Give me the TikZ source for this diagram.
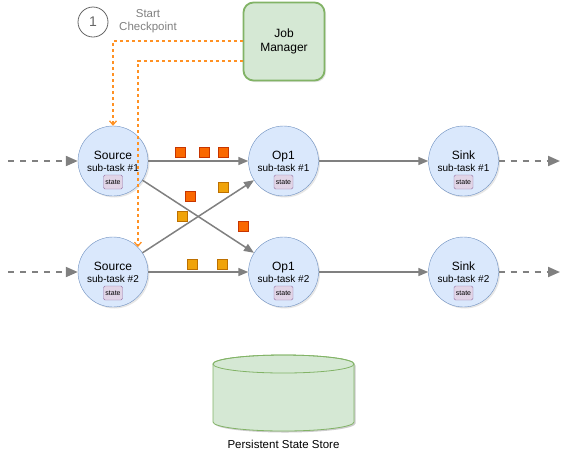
\documentclass[tikz,border=0pt]{standalone}
\usepackage{fontspec}
\setmainfont{Liberation Sans}
\usetikzlibrary{arrows.meta,shadows}
\definecolor{taskfill}{HTML}{DAE8FC}
\definecolor{taskline}{HTML}{6C8EBF}
\definecolor{statefill}{HTML}{E1D5E7}
\definecolor{stateline}{HTML}{9673A6}
\definecolor{jmfill}{HTML}{D5E8D4}
\definecolor{jmline}{HTML}{82B366}
\definecolor{flowgray}{HTML}{808080}
\definecolor{cpline}{RGB}{255,145,35}
\definecolor{redfill}{HTML}{FA6800}
\definecolor{redline}{HTML}{C73500}
\definecolor{orangefill}{HTML}{F0A30A}
\definecolor{orangeline}{HTML}{BD7000}
\begin{document}
\begin{tikzpicture}[x=1pt,y=-1pt,
    task/.style={circle,draw=taskline,fill=taskfill,minimum size=70pt,inner sep=0pt,
      align=center,font=\fontsize{12}{14}\selectfont,
      drop shadow={shadow xshift=1.5pt,shadow yshift=-1.5pt,opacity=.2}},
    statebox/.style={draw=stateline,fill=statefill,rounded corners=1.5pt,
      minimum width=19pt,minimum height=14pt,inner sep=0pt,font=\fontsize{7}{8}\selectfont},
    flow/.style={draw=flowgray,line width=1.5pt,-{Triangle[length=10pt,width=8pt]}},
    stream/.style={draw=flowgray,line width=2pt,dash pattern=on 6pt off 6pt,
      -{Triangle[length=12pt,width=10pt]}},
    trigger/.style={draw=cpline,line width=1.3pt,dash pattern=on 3pt off 3pt,
      -{Straight Barb[length=4pt,width=7pt,color=cpline]}},
    redmark/.style={draw=redline,fill=redfill,minimum size=10pt,inner sep=0pt},
    orangemark/.style={draw=orangeline,fill=orangefill,minimum size=10pt,inner sep=0pt}]
  \useasboundingbox (0,0) rectangle (567,451);
  % job manager and checkpoint trigger
  \node[draw=jmline,fill=jmfill,line width=1.8pt,rounded corners=10pt,minimum width=81pt,
    minimum height=78pt,align=center,font=\fontsize{12}{14}\selectfont,
    drop shadow={shadow xshift=1.5pt,shadow yshift=-1.5pt,opacity=.2}]
    (jm) at (284,41.5) {Job\\Manager};
  \node[circle,draw=black!60,line width=.8pt,minimum size=30pt,inner sep=0pt,
    text=black!60,font=\fontsize{14}{16}\selectfont] (one) at (93,22) {1};
  \node[text=flowgray,align=center,font=\fontsize{11.5}{13}\selectfont] (startcp) at (148,21)
    {Start\\Checkpoint};
  % tasks
  \draw
    (113,161) node[task] (s1) {Source\\[-2pt]\fontsize{10}{12}\selectfont sub-task \#1}
    (113,272) node[task] (s2) {Source\\[-2pt]\fontsize{10}{12}\selectfont sub-task \#2}
    (283.5,161) node[task] (op1) {Op1\\[-2pt]\fontsize{10}{12}\selectfont sub-task \#1}
    (283.5,272) node[task] (op2) {Op1\\[-2pt]\fontsize{10}{12}\selectfont sub-task \#2}
    (463.5,161) node[task] (k1) {Sink\\[-2pt]\fontsize{10}{12}\selectfont sub-task \#1}
    (463.5,272) node[task] (k2) {Sink\\[-2pt]\fontsize{10}{12}\selectfont sub-task \#2};
  \foreach \t in {s1,s2,op1,op2,k1,k2}
    \node[statebox] (\t-state) at ([yshift=-21pt]\t.center) {state};
  \coordinate (in1) at (8,161);
  \coordinate (in2) at (8,272);
  \coordinate (out1) at (560,161);
  \coordinate (out2) at (560,272);
  \begin{scope}
    \draw[stream] (in1) -- (s1);
    \draw[stream] (in2) -- (s2);
    \draw[stream] (k1) -- (out1);
    \draw[stream] (k2) -- (out2);
    \draw[flow] (s1) -- (op1);
    \draw[flow] (s1) -- (op2);
    \draw[flow] (s2) -- (op1);
    \draw[flow] (s2) -- (op2);
    \draw[flow] (op1) -- (k1);
    \draw[flow] (op2) -- (k2);
    \draw[trigger] ([yshift=.5pt]jm.west) -| (s1.north);
    \draw[trigger] ([yshift=-19.5pt]jm.west) -| (s2.45);
  \end{scope}
  % records in flight
  \foreach \x/\y [count=\i] in {180/152,204/152,223.5/152,190/196,243.5/226}
    \node[redmark] (red\i) at (\x,\y) {};
  \foreach \x/\y [count=\i] in {192.5/264,222.5/264,182.5/216,223.5/187}
    \node[orangemark] (orange\i) at (\x,\y) {};
  % persistent state store
  \fill[black,opacity=.2,xshift=1.5pt,yshift=-1.5pt]
    (213,364) -- (213,422) arc[start angle=180,end angle=360,x radius=70.5pt,y radius=9pt]
    -- (354,364) arc[start angle=0,end angle=180,x radius=70.5pt,y radius=9pt] -- cycle;
  \draw[jmline,fill=jmfill,line width=.8pt]
    (213,364) -- (213,422) arc[start angle=180,end angle=360,x radius=70.5pt,y radius=9pt]
    -- (354,364) arc[start angle=0,end angle=180,x radius=70.5pt,y radius=9pt] -- cycle;
  \draw[jmline,line width=.8pt] (283.5,364) ellipse[x radius=70.5pt,y radius=9pt];
  \node[font=\fontsize{11.5}{13}\selectfont] (store) at (283.5,444) {Persistent State Store};
\end{tikzpicture}
\end{document}
